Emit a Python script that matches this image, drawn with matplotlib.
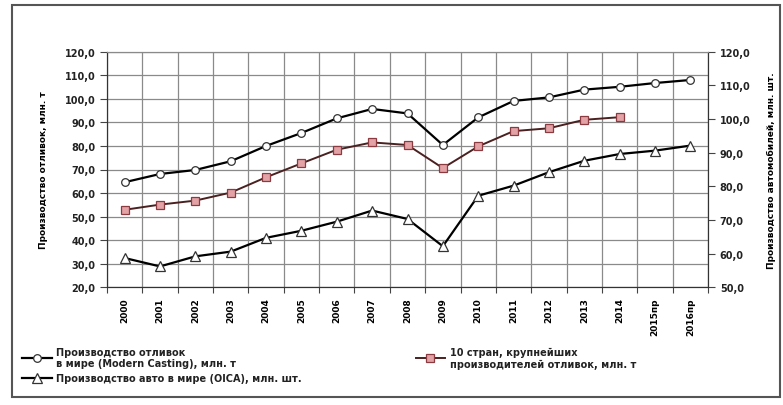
import numpy as np
import matplotlib
matplotlib.use("Agg")
import matplotlib.pyplot as plt
from matplotlib.patches import Rectangle
from matplotlib.ticker import FuncFormatter

years = ['2000', '2001', '2002', '2003', '2004', '2005', '2006', '2007', '2008',
         '2009', '2010', '2011', '2012', '2013', '2014', '2015пр', '2016пр']

casting = [64.6, 68.1, 69.8, 73.5, 80.0, 85.5, 91.7, 95.7, 93.8, 80.4,
           92.1, 99.1, 100.6, 103.9, 105.1, 106.7, 108.0]
top10 = [52.9, 55.1, 56.8, 60.2, 66.7, 72.6, 78.4, 81.5, 80.4, 70.6,
         79.8, 86.3, 87.5, 91.1, 92.2, np.nan, np.nan]
auto = [58.7, 56.2, 59.2, 60.6, 64.7, 66.8, 69.5, 72.8, 70.3, 62.2,
        77.2, 80.2, 84.2, 87.6, 89.6, 90.6, 92.1]

left_ticks = [20, 30, 40, 50, 60, 70, 80, 90, 100, 110, 120]
right_ticks = [50, 60, 70, 80, 90, 100, 110, 120]

plt.rcParams['font.family'] = 'DejaVu Sans'

fig = plt.figure(figsize=(7.83, 4.06), dpi=100)
ax = fig.add_axes([107/783, 1 - 288.3/406, (708 - 107)/783, 235.6/406])
ax2 = ax.twinx()

x = np.arange(len(years))
fmt = FuncFormatter(lambda v, p: f"{v:.1f}".replace('.', ','))

l1, = ax.plot(x, casting, color='black', lw=1.6, marker='o', ms=5.5,
              mfc='white', mec='#333333', mew=0.9, zorder=3)
l2, = ax.plot(x, top10, color='#4a2020', lw=1.4, marker='s', ms=6,
              mfc='#e3a3a6', mec='#8b3a40', mew=0.9, zorder=3)
l3, = ax2.plot(x, auto, color='black', lw=1.6, marker='^', ms=6.5,
               mfc='white', mec='#333333', mew=0.9, zorder=3)

ax.set_xlim(-0.5, len(years) - 0.5)
ax.set_ylim(20, 120)
ax2.set_ylim(50, 120)
ax.set_yticks(left_ticks)
ax2.set_yticks(right_ticks)
ax.yaxis.set_major_formatter(fmt)
ax2.yaxis.set_major_formatter(fmt)

# category boundaries as major ticks, labels on minor ticks
ax.set_xticks(np.arange(-0.5, len(years), 1.0))
ax.set_xticklabels([])
ax.set_xticks(x, minor=True)
ax.set_xticklabels(years, minor=True, rotation=90, fontsize=6.5, fontweight='bold')
ax.tick_params(axis='x', which='minor', length=0, pad=7)
ax.tick_params(axis='x', which='major', length=4, color='#444444')

ax.grid(True, axis='both', which='major', color='#8a8a8a', lw=0.9)
ax.set_axisbelow(True)
ax.tick_params(axis='y', labelsize=7, length=5, color='#444444')
ax2.tick_params(axis='y', labelsize=7, length=5, color='#444444')
for lab in ax.get_yticklabels() + ax2.get_yticklabels():
    lab.set_fontweight('bold')
    lab.set_color('#222222')

for s in ['left', 'bottom', 'right']:
    ax.spines[s].set_color('#333333')
    ax2.spines[s].set_color('#333333')
ax.spines['top'].set_color('#8a8a8a')
ax2.spines['top'].set_color('#8a8a8a')

ax.set_ylabel('Производство отливок, млн. т', fontsize=6.5, fontweight='bold',
              labelpad=12)
ax2.set_ylabel('Производство автомобилей, млн. шт.', fontsize=6.5,
               fontweight='bold', rotation=90, labelpad=12)

leg1 = fig.legend([l1, l3],
                  ['Производство отливок\nв мире (Modern Casting), млн. т',
                   'Производство авто в мире (OICA), млн. шт.'],
                  loc='upper left', bbox_to_anchor=(0.02, 0.16), frameon=False,
                  fontsize=7, handlelength=3.0, labelspacing=0.5,
                  handletextpad=0.5, borderpad=0.2)
leg2 = fig.legend([l2], ['10 стран, крупнейших\nпроизводителей отливок, млн. т'],
                  loc='upper left', bbox_to_anchor=(0.522, 0.16), frameon=False,
                  fontsize=7, handlelength=3.0, handletextpad=0.5, borderpad=0.2)
for t in leg1.get_texts() + leg2.get_texts():
    t.set_fontweight('bold')
    t.set_color('#222222')

# outer frame
fig.patches.append(Rectangle((12/783, 8/406), 768/783, 392/406,
                             transform=fig.transFigure, fill=False,
                             edgecolor='#555555', lw=1.5))

fig.savefig('out.png', dpi=100)
